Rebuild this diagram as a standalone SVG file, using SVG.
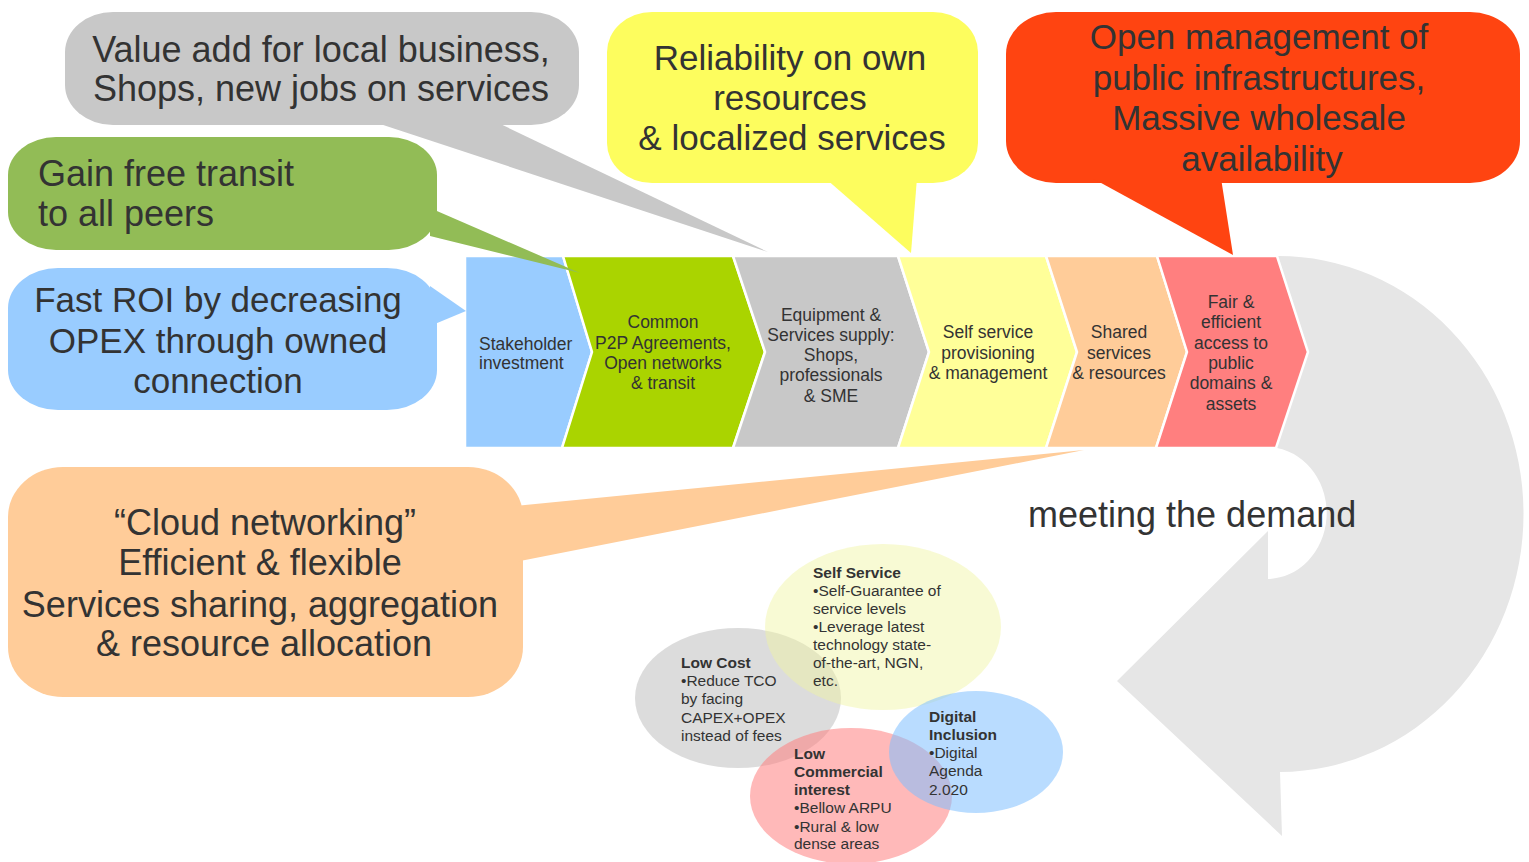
<svg xmlns="http://www.w3.org/2000/svg" width="1529" height="862" viewBox="0 0 1529 862">
<style>
text{font-family:"Liberation Sans",Arial,sans-serif;fill:#333333}
.big{font-size:36px}
.mid{font-size:35px}
.chev{font-size:17.5px;text-anchor:middle}
.chevl{font-size:17.5px}
.ell{font-size:15.5px}
.b{font-weight:bold}
.c{text-anchor:middle}
.cv{stroke:#ffffff;stroke-width:2.5;stroke-linejoin:miter}
</style>
<rect width="1529" height="862" fill="#ffffff"/>

<g id="connectors">
<path id="cycle-arrow" d="M1240,256 L1277,256 A245,258 0 0 1 1280,772 L1282,836 L1117,681 L1268,531 L1268,579 A60,66 0 0 0 1277,448 L1240,448 Z" fill="#e6e6e6"/>
</g>

<g id="chevrons">
<g id="stage-stakeholder">
<path class="cv" d="M465,256 L563,256 L592,352 L562,448 L465,448 Z" fill="#99ccff"/>
<text class="chevl" x="479" y="350">Stakeholder</text>
<text class="chevl" x="479" y="369">investment</text>
</g>
<g id="stage-p2p">
<path class="cv" d="M563,256 L733,256 L765,352 L733,448 L562,448 L592,352 Z" fill="#aad400"/>
<text class="chev" x="663" y="328">Common</text>
<text class="chev" x="663" y="349">P2P Agreements,</text>
<text class="chev" x="663" y="369">Open networks</text>
<text class="chev" x="663" y="389">&amp; transit</text>
</g>
<g id="stage-equipment">
<path class="cv" d="M733,256 L898,256 L929,352 L898,448 L733,448 L765,352 Z" fill="#c8c8c8"/>
<text class="chev" x="831" y="321">Equipment &amp;</text>
<text class="chev" x="831" y="341">Services supply:</text>
<text class="chev" x="831" y="361">Shops,</text>
<text class="chev" x="831" y="381">professionals</text>
<text class="chev" x="831" y="402">&amp; SME</text>
</g>
<g id="stage-selfservice">
<path class="cv" d="M898,256 L1046,256 L1077,352 L1046,448 L898,448 L929,352 Z" fill="#ffff99"/>
<text class="chev" x="988" y="338">Self service</text>
<text class="chev" x="988" y="359">provisioning</text>
<text class="chev" x="988" y="379">&amp; management</text>
</g>
<g id="stage-shared">
<path class="cv" d="M1046,256 L1157,256 L1187,352 L1156,448 L1046,448 L1077,352 Z" fill="#ffcc99"/>
<text class="chev" x="1119" y="338">Shared</text>
<text class="chev" x="1119" y="359">services</text>
<text class="chev" x="1119" y="379">&amp; resources</text>
</g>
<g id="stage-fair">
<path class="cv" d="M1157,256 L1277,256 L1308,352 L1276,448 L1156,448 L1187,352 Z" fill="#ff7f7f"/>
<text class="chev" x="1231" y="308">Fair &amp;</text>
<text class="chev" x="1231" y="328">efficient</text>
<text class="chev" x="1231" y="349">access to</text>
<text class="chev" x="1231" y="369">public</text>
<text class="chev" x="1231" y="389">domains &amp;</text>
<text class="chev" x="1231" y="410">assets</text>
</g>
</g>

<g id="callout-value">
<rect x="65" y="12" width="514" height="113" rx="48" ry="40" fill="#c8c8c8"/>
<polygon points="368,120 492,120 768,252" fill="#c8c8c8"/>
<text class="big c" x="321" y="62">Value add for local business,</text>
<text class="big c" x="321" y="101">Shops, new jobs on services</text>
</g>

<g id="callout-transit">
<rect x="8" y="137" width="429" height="113" rx="48" ry="38" fill="#92bc56"/>
<polygon points="430,208 430,236 580,273" fill="#92bc56"/>
<text class="big" x="38" y="186">Gain free transit</text>
<text class="big" x="38" y="226">to all peers</text>
</g>

<g id="callout-roi">
<rect x="8" y="268" width="429" height="142" rx="50" ry="40" fill="#99ccff"/>
<polygon points="430,286 430,326 466,311" fill="#99ccff"/>
<text class="mid c" x="218" y="312">Fast ROI by decreasing</text>
<text class="mid c" x="218" y="353">OPEX through owned</text>
<text class="mid c" x="218" y="393">connection</text>
</g>

<g id="callout-reliability">
<rect x="607" y="12" width="371" height="171" rx="45" ry="40" fill="#fdfd5e"/>
<polygon points="825,178 917,178 911,253" fill="#fdfd5e"/>
<text class="mid c" x="790" y="70">Reliability on own</text>
<text class="mid c" x="790" y="110">resources</text>
<text class="mid c" x="792" y="150">&amp; localized services</text>
</g>

<g id="callout-open">
<rect x="1006" y="12" width="514" height="171" rx="50" ry="42" fill="#ff4411"/>
<polygon points="1092,178 1221,178 1233,255" fill="#ff4411"/>
<text class="mid c" x="1259" y="49">Open management of</text>
<text class="mid c" x="1259" y="90">public infrastructures,</text>
<text class="mid c" x="1259" y="130">Massive wholesale</text>
<text class="mid c" x="1262" y="171">availability</text>
</g>

<g id="callout-cloud">
<rect x="8" y="467" width="515" height="230" rx="55" ry="50" fill="#ffcc99"/>
<polygon points="515,506 515,562 1084,450" fill="#ffcc99"/>
<text class="big c" x="265" y="535">“Cloud networking”</text>
<text class="big c" x="260" y="575">Efficient &amp; flexible</text>
<text class="big c" x="260" y="617">Services sharing, aggregation</text>
<text class="big c" x="264" y="656">&amp; resource allocation</text>
</g>

<g id="label-demand">
<text class="big" x="1028" y="527">meeting the demand</text>
</g>

<g id="venn">
<g id="venn-lowcost"><ellipse cx="738" cy="698" rx="103" ry="70" fill="#c0c0c0" fill-opacity="0.55"/></g>
<g id="venn-selfservice"><ellipse cx="883" cy="627" rx="118" ry="83" fill="#f0f5a0" fill-opacity="0.45"/></g>
<g id="venn-lowcommercial"><ellipse cx="851" cy="796" rx="101" ry="68" fill="#ff8080" fill-opacity="0.55"/></g>
<g id="venn-digital"><ellipse cx="976" cy="752" rx="87" ry="61" fill="#80c0ff" fill-opacity="0.55"/></g>
<g id="venn-texts">
<text class="ell b" x="813" y="578">Self Service</text>
<text class="ell" x="813" y="596">•Self-Guarantee of</text>
<text class="ell" x="813" y="614">service levels</text>
<text class="ell" x="813" y="632">•Leverage latest</text>
<text class="ell" x="813" y="650">technology state-</text>
<text class="ell" x="813" y="668">of-the-art, NGN,</text>
<text class="ell" x="813" y="686">etc.</text>
<text class="ell b" x="681" y="668">Low Cost</text>
<text class="ell" x="681" y="686">•Reduce TCO</text>
<text class="ell" x="681" y="704">by facing</text>
<text class="ell" x="681" y="723">CAPEX+OPEX</text>
<text class="ell" x="681" y="741">instead of fees</text>
<text class="ell b" x="929" y="722">Digital</text>
<text class="ell b" x="929" y="740">Inclusion</text>
<text class="ell" x="929" y="758">•Digital</text>
<text class="ell" x="929" y="776">Agenda</text>
<text class="ell" x="929" y="795">2.020</text>
<text class="ell b" x="794" y="759">Low</text>
<text class="ell b" x="794" y="777">Commercial</text>
<text class="ell b" x="794" y="795">interest</text>
<text class="ell" x="794" y="813">•Bellow ARPU</text>
<text class="ell" x="794" y="832">•Rural &amp; low</text>
<text class="ell" x="794" y="849">dense areas</text>
</g>
</g>
</svg>
